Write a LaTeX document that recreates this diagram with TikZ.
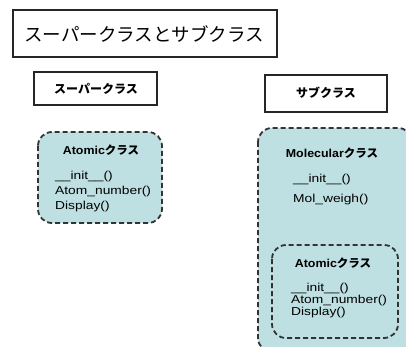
\documentclass[tikz,border=0pt]{standalone}
\usepackage{fontspec}
\setmainfont{Liberation Sans}[FakeStretch=1.08]
\newfontfamily\methf{Liberation Sans}[FakeStretch=1.2]
\newfontfamily\jp{Noto Sans CJK JP}
\definecolor{clsfill}{HTML}{BFE0E3}
\definecolor{dashcol}{HTML}{333333}
\begin{document}
\begin{tikzpicture}[x=1pt,y=-1pt,
  plainbox/.style={draw=black!85,line width=1.6pt,fill=white},
  clsbox/.style={draw=dashcol,line width=1.8pt,dash pattern=on 5pt off 3pt,fill=clsfill,rounded corners=14pt},
  cname/.style={font=\fontsize{11.5}{13}\selectfont\bfseries,inner sep=0pt},
  meth/.style={font=\fontsize{11.5}{12}\methf,inner sep=0pt,anchor=west},
  lbl/.style={font=\fontsize{12}{14}\selectfont\jp\bfseries,inner sep=0pt}]
\useasboundingbox (0,0) rectangle (406,347);
\begin{scope}
\clip (0,0) rectangle (406,347);
% title
\draw[plainbox] (13,10) rectangle (277,57);
\node[font=\fontsize{18.5}{20}\selectfont\jp,inner sep=0pt] (title) at (144,34) {スーパークラスとサブクラス};
% super / sub labels
\draw[plainbox] (34,72) rectangle (157,105);
\node[lbl] (super) at (96,89) {スーパークラス};
\draw[plainbox] (265,75) rectangle (387,112);
\node[lbl] (sub) at (326,93) {サブクラス};
% left Atomic class
\draw[clsbox] (38,132) rectangle (162,223);
\node[cname] (a1) at (101,150) {Atomic{\jp クラス}};
\node[meth] (a1i) at (55,177) {\_\_init\_\_()};
\node[meth] (a1n) at (55,192) {Atom\_number()};
\node[meth] (a1d) at (55,207) {Display()};
% right Molecular class
\draw[clsbox] (258,128) rectangle (412,352);
\node[cname] (m) at (332,153) {Molecular{\jp クラス}};
\node[meth] (mi) at (293,180) {\_\_init\_\_()};
\node[meth] (mw) at (293,200) {Mol\_weigh()};
% inner Atomic class
\draw[clsbox] (272,245) rectangle (398,338);
\node[cname] (a2) at (333,263) {Atomic{\jp クラス}};
\node[meth] (a2i) at (291,289) {\_\_init\_\_()};
\node[meth] (a2n) at (291,301) {Atom\_number()};
\node[meth] (a2d) at (291,313) {Display()};
\end{scope}
\end{tikzpicture}
\end{document}
